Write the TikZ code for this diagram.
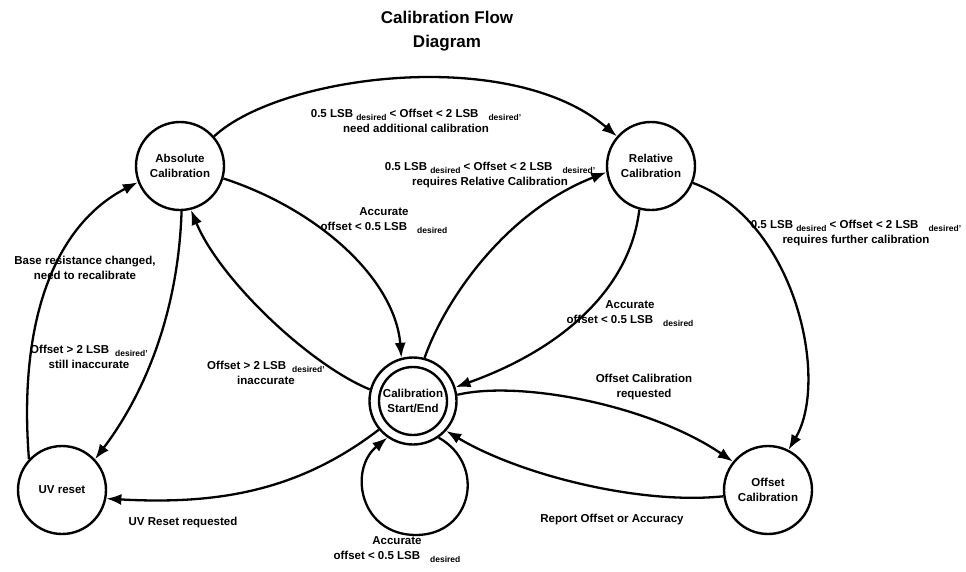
\documentclass[tikz,border=0pt]{standalone}
\usepackage{fontspec}
\setmainfont{Liberation Sans}
\usetikzlibrary{arrows.meta}
\newcommand{\dsub}[1]{\raisebox{-3pt}{\fontsize{8.5}{9}\selectfont #1}}
\begin{document}
\begin{tikzpicture}[x=1pt,y=-1pt,
  state/.style={circle, draw, line width=2.4pt, minimum size=88pt, inner sep=0pt, align=center, font=\fontsize{11.5}{15.5}\selectfont\bfseries},
  lbl/.style={align=center, inner sep=0pt, font=\fontsize{11.5}{15}\selectfont\bfseries},
  conn/.style={line width=2.3pt, -{Latex[length=15pt,width=11pt]}}
]
\useasboundingbox (0,0) rectangle (966,571);
% title
\node[align=center, font=\fontsize{17}{24}\selectfont\bfseries] (title) at (447,31) {Calibration Flow\\Diagram};
% states
\node[state] (abs) at (180,166) {Absolute\\Calibration};
\node[state] (rel) at (651,166) {Relative\\Calibration};
\node[state] (uv) at (62,490) {UV reset};
\node[state] (off) at (768,490) {Offset\\Calibration};
\node[state, minimum size=87pt] (se) at (413,401) {};
\node[state, minimum size=68pt] (sein) at (413,401) {Calibration\\Start/End};
% connectors
\draw[conn] (abs.41) .. controls (280,75) and (510,45) .. (rel.139);
\draw[conn] (se.75) .. controls (445,300) and (505,212) .. (rel.-172);
\draw[conn] (abs.-16) .. controls (320,210) and (395,280) .. (se.105);
\draw[conn] (se.165) .. controls (310,365) and (220,280) .. (abs.-76);
\draw[conn] (abs.-88) .. controls (178,320) and (140,400) .. (uv.43);
\draw[conn] (uv.137) .. controls (18,320) and (55,225) .. (abs.-159);
\draw[conn] (rel.-105) .. controls (630,290) and (560,350) .. (se.18);
\draw[conn] (rel.-22) .. controls (795,220) and (830,380) .. (off.63);
\draw[conn] (se.8) .. controls (520,380) and (650,405) .. (off.141);
\draw[conn] (off.-172) .. controls (640,505) and (520,475) .. (se.-42);
\draw[conn] (se.-140) .. controls (300,490) and (220,505) .. (uv.-11);
\draw[conn] (se.-55) .. controls (487,465) and (472,535) .. (416,535) .. controls (360,535) and (348,470) .. (se.-125);
% labels
\node[lbl] (l1) at (416,121) {0.5 LSB \dsub{desired} < Offset < 2 LSB\hspace{10pt}\dsub{desired’}\\need additional calibration};
\node[lbl] (l2) at (490,175) {0.5 LSB \dsub{desired} < Offset < 2 LSB\hspace{10pt}\dsub{desired’}\\requires Relative Calibration};
\node[lbl] (l3) at (384,221) {Accurate\\offset < 0.5 LSB\hspace{10pt}\dsub{desired}};
\node[lbl] (l4) at (266,373) {Offset > 2 LSB\hspace{6pt}\dsub{desired’}\\inaccurate};
\node[lbl] (l5) at (89,357) {Offset > 2 LSB\hspace{6pt}\dsub{desired’}\\still inaccurate};
\node[lbl] (l6) at (85,268) {Base resistance changed,\\need to recalibrate};
\node[lbl] (l7) at (630,314) {Accurate\\offset < 0.5 LSB\hspace{10pt}\dsub{desired}};
\node[lbl] (l8) at (856,233) {0.5 LSB \dsub{desired} < Offset < 2 LSB\hspace{10pt}\dsub{desired’}\\requires further calibration};
\node[lbl] (l9) at (644,387) {Offset Calibration\\requested};
\node[lbl] (l10) at (612,520) {Report Offset or Accuracy};
\node[lbl] (l11) at (183,523) {UV Reset requested};
\node[lbl] (l12) at (397,550) {Accurate\\offset < 0.5 LSB\hspace{10pt}\dsub{desired}};
\end{tikzpicture}
\end{document}
